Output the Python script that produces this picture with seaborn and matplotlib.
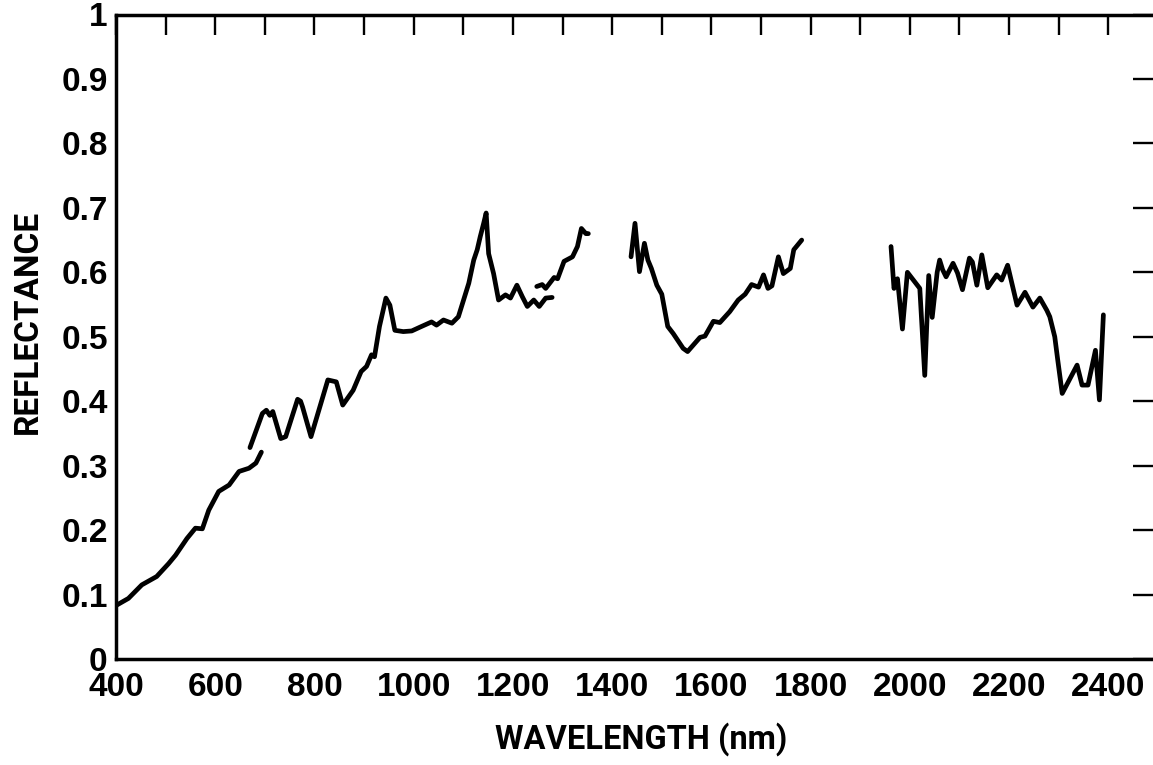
import numpy as np
import pandas as pd
import matplotlib
matplotlib.use("Agg")
import matplotlib.pyplot as plt
import seaborn as sns
from matplotlib.ticker import MultipleLocator, FixedLocator

# reflectance spectrum (wavelength in nm)
wl_1 = [400, 425, 452, 482, 506, 520, 543, 560, 574, 587, 607, 628, 648, 668, 682, 693]
refl_1 = [0.083, 0.094, 0.115, 0.128, 0.148, 0.161, 0.187, 0.203, 0.202, 0.231, 0.260,
          0.270, 0.291, 0.296, 0.304, 0.321]

wl_2 = [670, 695, 703, 710, 716, 732, 742, 766, 772, 776, 793, 827, 844, 857, 878, 894,
        905, 915, 921, 931, 944, 952, 962, 979, 996, 1013, 1036, 1046, 1060, 1077, 1090,
        1111, 1121, 1128, 1134, 1141, 1146, 1151, 1161, 1171, 1185, 1195, 1208, 1219,
        1229, 1242, 1253, 1266, 1279]
refl_2 = [0.328, 0.381, 0.386, 0.378, 0.384, 0.342, 0.345, 0.403, 0.400, 0.391, 0.345,
          0.433, 0.430, 0.394, 0.417, 0.446, 0.454, 0.472, 0.469, 0.516, 0.560, 0.549,
          0.510, 0.508, 0.509, 0.515, 0.523, 0.518, 0.526, 0.521, 0.531, 0.583, 0.619,
          0.635, 0.655, 0.676, 0.692, 0.629, 0.598, 0.557, 0.565, 0.560, 0.580, 0.562,
          0.547, 0.557, 0.547, 0.560, 0.561]

wl_3 = [1248, 1259, 1266, 1283, 1290, 1303, 1320, 1330, 1338, 1347, 1352]
refl_3 = [0.578, 0.581, 0.575, 0.592, 0.590, 0.617, 0.624, 0.640, 0.668, 0.660, 0.660]

wl_4 = [1438, 1446, 1455, 1465, 1472, 1479, 1490, 1500, 1512, 1523, 1543, 1552, 1577,
        1587, 1604, 1617, 1637, 1654, 1668, 1681, 1695, 1705, 1714, 1722, 1735, 1745,
        1759, 1766, 1782]
refl_4 = [0.624, 0.676, 0.601, 0.645, 0.619, 0.606, 0.580, 0.566, 0.516, 0.505, 0.482,
          0.477, 0.499, 0.501, 0.524, 0.522, 0.539, 0.557, 0.566, 0.581, 0.577, 0.596,
          0.575, 0.579, 0.624, 0.598, 0.606, 0.635, 0.650]

wl_5 = [1962, 1968, 1975, 1985, 1995, 2020, 2030, 2038, 2045, 2055, 2060, 2066, 2073,
        2087, 2096, 2106, 2120, 2126, 2135, 2145, 2157, 2175, 2185, 2197, 2216, 2232,
        2248, 2262, 2276, 2282, 2292, 2298, 2307, 2337, 2347, 2359, 2374, 2382, 2390]
refl_5 = [0.640, 0.575, 0.590, 0.512, 0.600, 0.575, 0.440, 0.595, 0.530, 0.600, 0.619,
          0.604, 0.593, 0.614, 0.599, 0.573, 0.622, 0.616, 0.580, 0.627, 0.576, 0.596,
          0.588, 0.611, 0.549, 0.569, 0.546, 0.560, 0.541, 0.531, 0.500, 0.464, 0.412,
          0.456, 0.425, 0.425, 0.479, 0.402, 0.534]

segments = [(wl_1, refl_1), (wl_2, refl_2), (wl_3, refl_3), (wl_4, refl_4), (wl_5, refl_5)]

x_major = [400, 600, 800, 1000, 1200, 1400, 1600, 1800, 2000, 2200, 2400]
y_ticks = [0, 0.1, 0.2, 0.3, 0.4, 0.5, 0.6, 0.7, 0.8, 0.9, 1]
y_labels = ["0", "0.1", "0.2", "0.3", "0.4", "0.5", "0.6", "0.7", "0.8", "0.9", "1"]

sns.set_style("white")
plt.rcParams["font.family"] = ["Liberation Sans", "DejaVu Sans"]
plt.rcParams["font.weight"] = "bold"
for key in ["text.color", "axes.labelcolor", "xtick.color", "ytick.color", "axes.edgecolor"]:
    plt.rcParams[key] = "black"

fig = plt.figure(figsize=(11.53, 7.65), dpi=100)
ax = fig.add_axes([116 / 1153, 1 - 659 / 765, (1153 - 116) / 1153, (659 - 14.5) / 765])

for wl, refl in segments:
    df = pd.DataFrame({"wl": wl, "refl": refl})
    sns.lineplot(data=df, x="wl", y="refl", color="black", linewidth=3.4,
                 sort=False, estimator=None, ax=ax)

ax.set_xlim(400, 2490)
ax.set_ylim(0, 1)
ax.xaxis.set_major_locator(FixedLocator(x_major))
ax.xaxis.set_minor_locator(MultipleLocator(100))
ax.set_xticklabels([str(v) for v in x_major])
ax.set_yticks(y_ticks)
ax.set_yticklabels(y_labels)

ax.tick_params(axis="both", which="both", direction="in", length=14.5, width=1.7,
               color="black", top=True, right=True)
ax.tick_params(axis="x", which="major", labelsize=24, pad=9)
ax.tick_params(axis="y", which="major", labelsize=24, pad=6)
for lab in ax.get_xticklabels() + ax.get_yticklabels():
    lab.set_fontweight("bold")
    lab.set_color("black")

for side in ["left", "bottom", "top"]:
    ax.spines[side].set_linewidth(2.5)
    ax.spines[side].set_color("black")
ax.spines["right"].set_visible(False)

# axis titles in the scan are a tall, slightly narrow bold face
label_font = ["Roboto", "Liberation Sans", "DejaVu Sans"]
ax.set_xlabel("WAVELENGTH (nm)", fontsize=23.5, fontweight="bold", color="black",
              family=label_font)
ax.set_ylabel("REFLECTANCE", fontsize=24, fontweight="bold", color="black",
              family=label_font)
ax.xaxis.set_label_coords((641 - 116) / 1037, (659 - 722) / 644.5)
ax.yaxis.set_label_coords((44 - 116) / 1037, (659 - 322) / 644.5)

fig.savefig("out.png", dpi=100)
